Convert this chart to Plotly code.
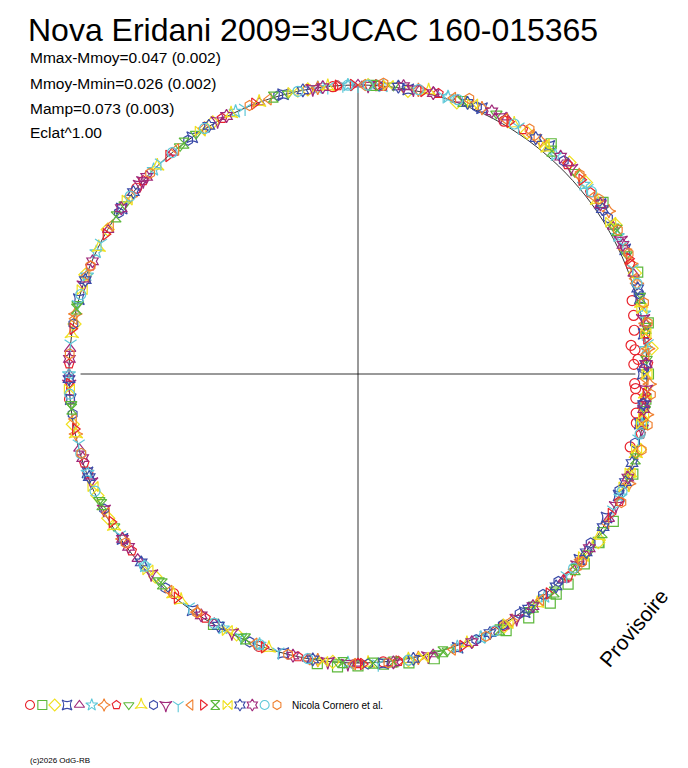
import plotly.graph_objects as go

W, H = 688, 768
colors = ["#e8212a", "#5cb83a", "#f0e020", "#3a4aa8", "#a0287a", "#5ec8d8", "#f08030"]
symbols = ["circle-open", "square-open", "diamond-open", "star-square-open", "triangle-up-open",
           "star-open", "star-diamond-open", "pentagon-open", "triangle-down-open", "star-triangle-up-open",
           "hexagon-open", "star-triangle-down-open", "y-down-open", "triangle-left-open", "triangle-right-open",
           "hourglass-open", "bowtie-open", "hexagram-open", "hexagram-open", "circle-open", "hexagon-open"]

# phase angle (deg, counter-clockwise from east) and normalised radius per series
theta = [
 [2, 5, 9, 358, 355, 352, 12, 15, 350, 6, 3, 357, 95, 140, 185, 230, 275, 320, 60, 100, 200, 250, 300, 345],
 [270, 275, 280, 285, 300, 305, 310, 315, 320, 325, 330, 340, 350, 10, 20, 35, 50, 240, 262, 266, 0, 355, 325, 312],
 [20, 40, 55, 70, 80, 100, 120, 150, 170, 190, 205, 225, 245, 265, 280, 300, 325, 345, 5, 30, 45, 88, 160, 210],
 [15, 25, 35, 50, 65, 80, 105, 125, 145, 165, 185, 200, 215, 235, 255, 275, 290, 305, 320, 335, 350, 0, 8, 330],
 [10, 30, 45, 60, 75, 90, 110, 130, 150, 175, 195, 220, 240, 260, 285, 300, 315, 330, 340, 355, 20, 70, 180, 270],
 [12, 28, 48, 72, 85, 92, 115, 135, 160, 180, 200, 222, 242, 268, 290, 310, 335, 350, 40, 98, 155, 250, 295, 5],
 [5, 18, 25, 33, 42, 52, 65, 78, 98, 122, 142, 168, 192, 215, 236, 262, 282, 302, 318, 338, 352, 358, 10, 22],
 [8, 22, 38, 56, 74, 94, 118, 138, 158, 178, 198, 218, 238, 258, 278, 298, 316, 334, 348, 355, 2, 85, 270, 45],
 [3, 24, 43, 62, 83, 104, 124, 144, 166, 186, 206, 226, 246, 266, 286, 306, 322, 339, 353, 68, 128, 212, 288, 30],
 [14, 36, 58, 76, 96, 116, 134, 154, 172, 192, 212, 232, 252, 272, 292, 308, 326, 344, 356, 50, 110, 230, 280, 340],
 [1, 16, 32, 46, 66, 86, 106, 126, 146, 170, 188, 208, 228, 248, 272, 294, 304, 314, 324, 336, 346, 354, 300, 310],
 [11, 27, 44, 61, 79, 99, 119, 139, 162, 182, 202, 224, 244, 264, 284, 303, 319, 333, 349, 357, 88, 138, 208, 268],
 [6, 21, 39, 57, 73, 93, 113, 133, 153, 174, 194, 214, 234, 254, 274, 296, 316, 332, 347, 90, 166, 246, 26, 96],
 [4, 19, 37, 54, 71, 89, 108, 129, 149, 169, 189, 209, 229, 249, 269, 289, 309, 329, 344, 359, 60, 160, 260, 320],
 [7, 23, 41, 59, 77, 91, 111, 131, 151, 171, 191, 211, 231, 251, 271, 291, 311, 331, 351, 86, 94, 182, 278, 356],
 [9, 29, 49, 69, 87, 107, 127, 147, 167, 187, 207, 227, 247, 267, 287, 307, 327, 343, 273, 277, 299, 312, 318, 15],
 [13, 31, 51, 67, 84, 103, 123, 143, 163, 183, 203, 223, 243, 263, 283, 301, 321, 337, 352, 0, 350, 345, 340, 8],
 [17, 34, 53, 68, 82, 101, 121, 141, 161, 181, 201, 221, 241, 261, 281, 297, 313, 328, 342, 354, 2, 338, 322, 306],
 [2, 26, 47, 63, 81, 97, 117, 137, 157, 177, 197, 217, 237, 257, 277, 293, 307, 323, 339, 353, 35, 75, 145, 215],
 [18, 38, 58, 78, 88, 102, 122, 142, 164, 184, 204, 222, 240, 260, 280, 298, 318, 336, 348, 70, 92, 130, 196, 250],
 [14, 29, 42, 55, 68, 85, 112, 136, 158, 176, 196, 216, 236, 256, 276, 296, 320, 334, 345, 350, 356, 10, 24, 36],
]
radius = [
 [0.955, 0.962, 0.968, 0.958, 0.965, 0.972, 0.975, 0.982, 0.978, 0.95, 0.97, 0.962, 0.998, 1.0, 1.002, 0.992, 1.0, 1.01, 1.01, 1.0, 0.995, 1.003, 1.006, 0.975],
 [1.01, 1.008, 1.015, 1.02, 1.025, 1.03, 1.035, 1.028, 1.022, 1.018, 1.02, 1.012, 1.0, 1.02, 1.03, 1.035, 1.04, 1.0, 1.012, 1.016, 1.005, 1.0, 1.015, 1.025],
 [1.02, 1.03, 1.02, 1.0, 0.995, 1.0, 1.005, 1.0, 0.996, 1.002, 0.995, 0.992, 0.994, 1.0, 1.005, 1.01, 1.015, 1.01, 1.02, 1.03, 1.035, 1.0, 1.004, 0.998],
 [1.01, 1.02, 1.025, 1.03, 1.015, 1.0, 1.002, 1.0, 0.998, 1.0, 0.998, 0.996, 0.995, 0.998, 1.0, 1.005, 1.008, 1.006, 1.0, 0.995, 0.99, 0.985, 0.998, 0.993],
 [1.01, 1.02, 1.03, 1.025, 1.01, 1.002, 1.0, 1.0, 0.998, 1.0, 0.998, 0.995, 0.995, 1.0, 1.004, 1.008, 1.006, 1.002, 1.0, 0.998, 1.015, 1.01, 1.0, 1.002],
 [1.012, 1.018, 1.02, 1.008, 1.0, 1.0, 1.002, 1.0, 0.998, 1.0, 0.996, 0.994, 0.996, 1.0, 1.005, 1.006, 1.002, 0.998, 1.02, 1.0, 0.999, 0.996, 1.006, 1.0],
 [1.008, 1.015, 1.02, 1.035, 1.03, 1.025, 1.015, 1.005, 1.0, 1.002, 0.998, 1.0, 0.998, 0.995, 0.994, 1.0, 1.004, 1.006, 1.01, 1.012, 1.01, 1.01, 1.01, 1.02],
 [1.005, 1.015, 1.02, 1.02, 1.01, 1.0, 1.002, 1.0, 0.998, 1.0, 0.996, 0.994, 0.996, 1.0, 1.004, 1.008, 1.01, 1.006, 1.0, 0.998, 1.004, 1.0, 1.002, 1.025],
 [1.0, 1.018, 1.025, 1.02, 1.005, 1.0, 1.002, 0.998, 1.0, 0.998, 0.996, 0.993, 0.996, 1.0, 1.006, 1.01, 1.008, 1.004, 1.0, 1.015, 1.0, 0.995, 1.006, 1.02],
 [1.01, 1.022, 1.02, 1.01, 1.0, 1.002, 1.0, 0.998, 1.0, 0.998, 0.995, 0.994, 0.998, 1.002, 1.006, 1.008, 1.005, 1.0, 0.996, 1.02, 1.0, 0.994, 1.004, 1.002],
 [0.99, 1.01, 1.02, 1.025, 1.012, 1.0, 1.002, 1.0, 0.998, 1.0, 0.997, 0.995, 0.996, 1.0, 1.004, 1.006, 1.0, 0.998, 0.995, 0.99, 0.988, 0.99, 1.002, 0.996],
 [1.005, 1.02, 1.025, 1.018, 1.005, 1.0, 1.002, 1.0, 0.998, 1.0, 0.996, 0.995, 0.996, 1.0, 1.005, 1.008, 1.006, 1.002, 1.0, 0.998, 1.0, 1.0, 0.996, 1.002],
 [1.008, 1.018, 1.022, 1.02, 1.008, 1.002, 1.0, 1.0, 0.998, 1.0, 0.996, 0.994, 0.996, 1.0, 1.005, 1.006, 1.004, 1.0, 0.996, 1.0, 0.999, 0.996, 1.02, 1.0],
 [1.0, 1.012, 1.02, 1.022, 1.01, 1.0, 1.0, 1.0, 0.998, 1.0, 0.996, 0.994, 0.995, 1.0, 1.004, 1.008, 1.006, 1.002, 0.998, 0.995, 1.018, 1.0, 1.002, 1.0],
 [1.005, 1.02, 1.025, 1.018, 1.005, 1.0, 1.002, 1.0, 0.998, 1.0, 0.997, 0.994, 0.996, 1.0, 1.004, 1.008, 1.006, 1.0, 0.996, 1.002, 1.0, 1.0, 1.005, 0.998],
 [1.01, 1.025, 1.022, 1.01, 1.0, 1.002, 1.0, 0.998, 1.0, 0.998, 0.995, 0.993, 0.996, 1.0, 1.005, 1.01, 1.008, 1.004, 1.002, 1.004, 1.012, 1.015, 1.012, 1.012],
 [1.008, 1.02, 1.024, 1.015, 1.004, 1.0, 1.002, 1.0, 0.998, 1.0, 0.996, 0.994, 0.996, 1.002, 1.006, 1.008, 1.004, 1.0, 0.998, 1.0, 0.996, 0.998, 1.002, 1.006],
 [1.012, 1.02, 1.022, 1.012, 1.004, 1.0, 1.002, 1.0, 0.998, 1.0, 0.996, 0.994, 0.996, 1.0, 1.004, 1.006, 1.005, 1.0, 0.997, 0.994, 0.996, 0.998, 1.002, 1.004],
 [0.998, 1.02, 1.028, 1.02, 1.008, 1.0, 1.002, 1.0, 0.998, 1.0, 0.996, 0.994, 0.996, 1.0, 1.005, 1.008, 1.006, 1.002, 1.0, 0.996, 1.024, 1.006, 1.0, 0.995],
 [1.015, 1.025, 1.02, 1.006, 1.0, 1.0, 1.002, 1.0, 0.998, 1.0, 0.996, 0.994, 0.996, 1.0, 1.005, 1.007, 1.004, 1.0, 0.998, 1.01, 1.0, 1.0, 0.998, 0.996],
 [1.02, 1.028, 1.032, 1.035, 1.028, 1.01, 1.002, 1.0, 0.998, 1.0, 0.996, 0.994, 0.996, 1.0, 1.005, 1.01, 1.012, 1.014, 1.016, 1.018, 1.016, 1.018, 1.025, 1.03],
]

title = "Nova Eridani 2009=3UCAC 160-015365"
info_lines = ["Mmax-Mmoy=0.047 (0.002)", "Mmoy-Mmin=0.026 (0.002)", "Mamp=0.073 (0.003)", "Eclat^1.00"]
author = "Nicola Cornero et al."
copyright_text = "(c)2026 OdG-RB"

fig = go.Figure()
circ_t = list(range(0, 361, 2))
fig.add_trace(go.Scatterpolar(r=[1.0] * len(circ_t), theta=circ_t, mode="lines",
                              line=dict(color="black", width=0.8), hoverinfo="skip", showlegend=False))
for t, rr in [(0, 0.96), (180, 0.96), (90, 1.0), (270, 1.0)]:
    fig.add_trace(go.Scatterpolar(r=[0, rr], theta=[t, t], mode="lines",
                                  line=dict(color="black", width=0.8), hoverinfo="skip", showlegend=False))

for i in range(len(theta)):
    fig.add_trace(go.Scatterpolar(r=radius[i], theta=theta[i], mode="markers",
                                  marker=dict(symbol=symbols[i], size=10, color=colors[i % 7],
                                              line=dict(width=1.2, color=colors[i % 7])),
                                  showlegend=False))

key_x = [22 + 12.35 * i for i in range(len(symbols))]
for i in range(len(symbols)):
    fig.add_trace(go.Scatter(x=[key_x[i]], y=[0], mode="markers", xaxis="x", yaxis="y",
                             marker=dict(symbol=symbols[i], size=9, color=colors[i % 7],
                                         line=dict(width=1.1, color=colors[i % 7])),
                             showlegend=False, hoverinfo="skip"))

R = 1.05 * 289
cx, cy = 350, H - 366
fig.update_layout(
    width=W, height=H, margin=dict(l=0, r=0, t=0, b=0),
    paper_bgcolor="white", plot_bgcolor="white",
    font=dict(family="Liberation Sans, Arial, sans-serif", color="black"),
    polar=dict(
        domain=dict(x=[(cx - R) / W, (cx + R) / W], y=[(cy - R) / H, (cy + R) / H]),
        bgcolor="rgba(0,0,0,0)",
        radialaxis=dict(range=[0, 1.05], visible=False),
        angularaxis=dict(visible=False, rotation=0, direction="counterclockwise"),
    ),
    xaxis=dict(domain=[0, 1], range=[0, W], visible=False, fixedrange=True),
    yaxis=dict(domain=[(H - 707) / H, (H - 687) / H], range=[-1, 1], visible=False, fixedrange=True),
)

ann = [dict(x=18 / W, y=1 - 2 / H, text=title, font=dict(size=32), xanchor="left", yanchor="top")]
for k, line in enumerate(info_lines):
    ann.append(dict(x=20 / W, y=1 - (50 + 25 * k) / H, text=line, font=dict(size=15.5),
                    xanchor="left", yanchor="middle"))
ann.append(dict(x=282 / W, y=1 - 697 / H, text=author, font=dict(size=10), xanchor="left", yanchor="middle"))
ann.append(dict(x=20 / W, y=1 - 752 / H, text=copyright_text, font=dict(size=8), xanchor="left", yanchor="middle"))
ann.append(dict(x=625 / W, y=1 - 620 / H, text="Provisoire", font=dict(size=21), textangle=-50,
                xanchor="center", yanchor="middle"))
for a in ann:
    a.update(xref="paper", yref="paper", showarrow=False)
fig.update_layout(annotations=ann)

fig.write_html("out.html")
